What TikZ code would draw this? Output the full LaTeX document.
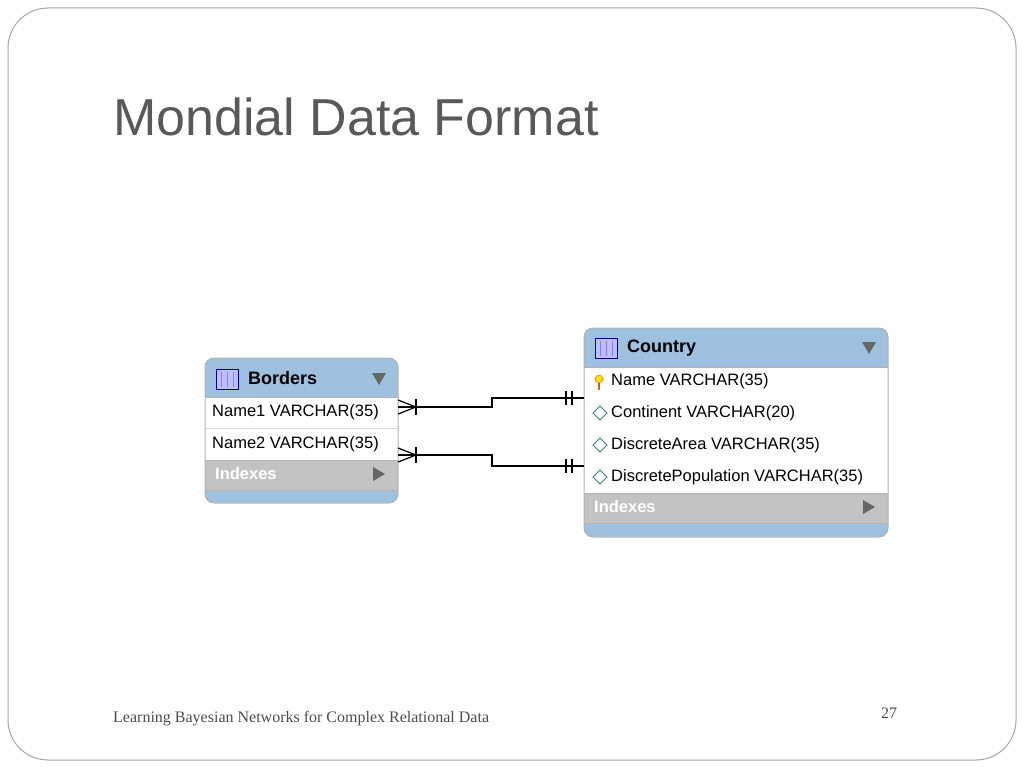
\documentclass[tikz,border=0pt]{standalone}
\usepackage{fontspec}
\setmainfont{Liberation Sans}
\newfontfamily\serifx{Liberation Serif}
\begin{document}
\begin{tikzpicture}[x=1pt,y=-1pt,
  hdr/.style={fill=hblue},
  rowtxt/.style={anchor=west,font=\fontsize{16.5}{18}\selectfont,inner sep=0},
  idx/.style={anchor=west,font=\fontsize{16.5}{18}\selectfont\bfseries,text=white,inner sep=0},
  ttl/.style={anchor=west,font=\fontsize{18}{20}\selectfont\bfseries,inner sep=0},
  conn/.style={line width=1.2pt},
]
\definecolor{hblue}{HTML}{9DC1DF}
\definecolor{igray}{HTML}{C3C3C3}
\definecolor{tri}{HTML}{666666}
\useasboundingbox (0,0) rectangle (1024,768);
\draw[gray!70, line width=1pt, rounded corners=40] (8,8) rectangle (1016,760);
\node[anchor=base west,inner sep=0,text=black!65,font=\fontsize{52}{60}\selectfont] (title) at (113,135) {Mondial Data Format};
\node[anchor=base west,inner sep=0,text=black!70,font=\serifx\fontsize{16}{18}\selectfont] (foot) at (113,722) {Learning Bayesian Networks for Complex Relational Data};
\node[anchor=base,inner sep=0,text=black!70,font=\serifx\fontsize{16}{18}\selectfont] (pg) at (889,718) {27};
% Borders table
\begin{scope}
\clip[rounded corners=9] (205,358) rectangle (398,503);
\fill[hblue] (205,358) rectangle (398,503);
\fill[white] (205,397) rectangle (398,460);
\fill[igray] (205,460) rectangle (398,490);
\draw[white!85!black] (205,428.5) -- (398,428.5);
\end{scope}
\draw[gray!60, rounded corners=9, line width=1pt] (205,358) rectangle (398,503);
\draw[white!70!black] (205,397) -- (398,397) (205,460) -- (398,460) (205,490) -- (398,490);
\fill[blue!25, draw=blue!60!black] (216,369) rectangle (238,389);
\draw[blue!50] (221,372)--(221,387) (227,372)--(227,387) (233,372)--(233,387);
\node[ttl] (bt) at (248,378) {Borders};
\fill[tri] (372,373) -- (386,373) -- (379,385) -- cycle;
\node[rowtxt] (b1) at (212,412) {Name1 VARCHAR(35)};
\node[rowtxt] (b2) at (212,444) {Name2 VARCHAR(35)};
\node[idx] (bi) at (215,474) {Indexes};
\fill[tri] (373,467) -- (385,474) -- (373,481) -- cycle;
% Country table
\begin{scope}
\clip[rounded corners=9] (584,328) rectangle (888,537);
\fill[hblue] (584,328) rectangle (888,537);
\fill[white] (584,367) rectangle (888,493);
\fill[igray] (584,493) rectangle (888,523);
\end{scope}
\draw[gray!60, rounded corners=9, line width=1pt] (584,328) rectangle (888,537);
\draw[white!70!black] (584,367) -- (888,367) (584,493) -- (888,493) (584,523) -- (888,523);
\fill[blue!25, draw=blue!60!black] (595,338) rectangle (617,358);
\draw[blue!50] (600,341)--(600,356) (606,341)--(606,356) (612,341)--(612,356);
\node[ttl] (ct) at (627,348) {Country};
\fill[tri] (862,342) -- (876,342) -- (869,354) -- cycle;
\fill[yellow!80!orange, draw=orange!80!black] (599,379) circle (4);
\draw[orange!80!black, line width=2pt] (599,383) -- (599,390);
\node[rowtxt] (c1) at (611,381) {Name VARCHAR(35)};
\foreach \y/\t/\n in {413/Continent VARCHAR(20)/c2, 445/DiscreteArea VARCHAR(35)/c3, 477/DiscretePopulation VARCHAR(35)/c4}{
  \draw[teal!50!gray, line width=1pt, fill=white] (593,\y) -- (600,\y-7) -- (607,\y) -- (600,\y+7) -- cycle;
  \node[rowtxt] (\n) at (611,\y) {\t};
}
\node[idx] (ci) at (594,507) {Indexes};
\fill[tri] (863,500) -- (875,507) -- (863,514) -- cycle;
% connectors
\coordinate (e1) at (398,407); \coordinate (f1) at (584,398);
\coordinate (e2) at (398,455); \coordinate (f2) at (584,466);
\draw[conn] (e1) -- (492,407) -- (492,398) -- (f1);
\draw[conn] (e2) -- (492,455) -- (492,466) -- (f2);
\foreach \e/\f in {e1/f1,e2/f2}{
  \draw[conn] ([yshift=-7]\e) -- ([xshift=18]\e) -- ([yshift=7]\e);
  \draw[conn] ([xshift=18,yshift=-8]\e) -- ([xshift=18,yshift=8]\e);
  \draw[conn] ([xshift=-18,yshift=-7]\f) -- ([xshift=-18,yshift=7]\f);
  \draw[conn] ([xshift=-12,yshift=-7]\f) -- ([xshift=-12,yshift=7]\f);
}
\end{tikzpicture}
\end{document}
